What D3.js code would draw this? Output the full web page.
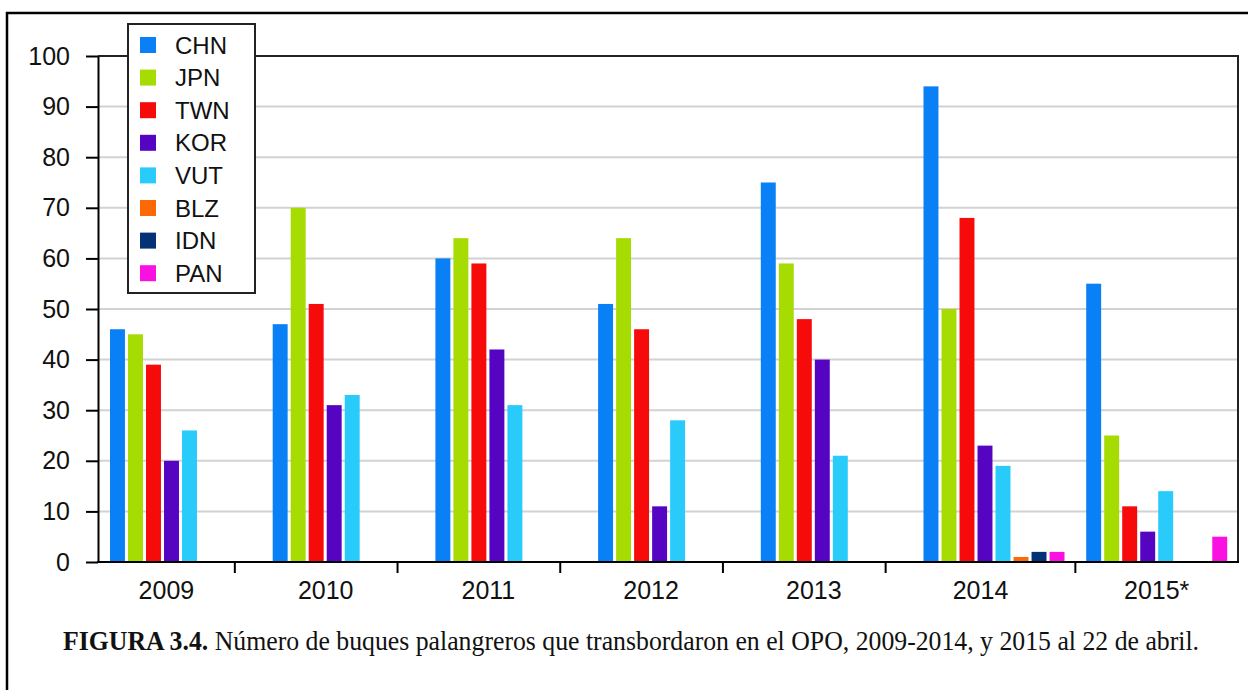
<!DOCTYPE html>
<html>
<head>
<meta charset="utf-8">
<script src="https://cdn.jsdelivr.net/npm/d3@7"></script>
<style>
  body { margin: 0; background: #fff; }
  svg { display: block; }
  text { font-family: "Liberation Sans", Arial, sans-serif; fill: #111; }
</style>
</head>
<body>
<svg id="chart" width="1248" height="690"></svg>
<script>
// data
var years = ["2009", "2010", "2011", "2012", "2013", "2014", "2015*"];
var fleets = ["CHN", "JPN", "TWN", "KOR", "VUT", "BLZ", "IDN", "PAN"];
var CHN = [46, 47, 60, 51, 75, 94, 55];
var JPN = [45, 70, 64, 64, 59, 50, 25];
var TWN = [39, 51, 59, 46, 48, 68, 11];
var KOR = [20, 31, 42, 11, 40, 23, 6];
var VUT = [26, 33, 31, 28, 21, 19, 14];
var BLZ = [0, 0, 0, 0, 0, 1, 0];
var IDN = [0, 0, 0, 0, 0, 2, 0];
var PAN = [0, 0, 0, 0, 0, 2, 5];
var yTicks = [0, 10, 20, 30, 40, 50, 60, 70, 80, 90, 100];
var colors = ["#0a80f6", "#a6dc02", "#f70a0a", "#5504c2", "#28cbf9", "#fd6a05", "#053276", "#fb10e2"];
var caption = "Número de buques palangreros que transbordaron en el OPO, 2009-2014, y 2015 al 22 de abril.";

var series = {CHN: CHN, JPN: JPN, TWN: TWN, KOR: KOR, VUT: VUT, BLZ: BLZ, IDN: IDN, PAN: PAN};

var svg = d3.select("#chart");
var pLeft = 98, pRight = 1238, pTop = 56, pBottom = 562;

var y = d3.scaleLinear().domain([0, 100]).range([pBottom, pTop]);
var x0 = d3.scaleBand().domain(years).range([110, 110 + 7 * 162.7]);
var x1 = d3.scaleBand().domain(fleets).range([0, 141]).paddingInner(0.17);
var color = d3.scaleOrdinal().domain(fleets).range(colors);

// outer figure frame
svg.append("path")
    .attr("d", "M7,690V13H1248")
    .attr("fill", "none").attr("stroke", "#000").attr("stroke-width", 2.5);

// gridlines
svg.append("g").selectAll("line")
    .data(yTicks.filter(function(d){ return d > 0 && d < 100; }))
  .enter().append("line")
    .attr("x1", pLeft).attr("x2", pRight)
    .attr("y1", function(d){ return y(d); }).attr("y2", function(d){ return y(d); })
    .attr("stroke", "#d2d2d2").attr("stroke-width", 2);

// top / right frame of plot
svg.append("path")
    .attr("d", "M" + pLeft + "," + y(100) + "H" + pRight + "V" + y(0))
    .attr("fill", "none").attr("stroke", "#222").attr("stroke-width", 2);

// bars
var groups = svg.append("g").selectAll("g")
    .data(years)
  .enter().append("g")
    .attr("transform", function(d){ return "translate(" + x0(d) + ",0)"; });

groups.selectAll("rect")
    .data(function(d, i){ return fleets.map(function(f){ return {key: f, value: series[f][i]}; }); })
  .enter().append("rect")
    .filter(function(d){ return d.value > 0; })
    .attr("x", function(d){ return x1(d.key); })
    .attr("width", x1.bandwidth())
    .attr("y", function(d){ return y(d.value); })
    .attr("height", function(d){ return y(0) - y(d.value); })
    .attr("fill", function(d){ return color(d.key); });

// y axis
var yAxis = svg.append("g")
    .attr("transform", "translate(" + pLeft + ",0)")
    .call(d3.axisLeft(y).tickValues(yTicks).tickSize(12).tickSizeOuter(0).tickPadding(16));
yAxis.select(".domain").attr("stroke", "#000").attr("stroke-width", 2);
yAxis.selectAll(".tick line").attr("stroke", "#000").attr("stroke-width", 2);
yAxis.selectAll(".tick text").attr("font-size", 25).attr("font-family", "Liberation Sans, Arial, sans-serif").attr("fill", "#111");

// x axis: ticks sit in the gap between the last drawn bar of a year and the next year
function lastEnd(i){
  var last = 0;
  fleets.forEach(function(f, k){ if (series[f][i] > 0) last = k; });
  return x0(years[i]) + x1(fleets[last]) + x1.bandwidth();
}
var tickX = years.slice(1).map(function(d, i){ return (lastEnd(i) + x0(d)) / 2; });
var bounds = [pLeft].concat(tickX, [pRight]);

svg.append("line")
    .attr("x1", pLeft - 1).attr("x2", pRight + 1)
    .attr("y1", y(0)).attr("y2", y(0))
    .attr("stroke", "#000").attr("stroke-width", 2);

svg.append("g").selectAll("line")
    .data(tickX)
  .enter().append("line")
    .attr("x1", function(d){ return d; }).attr("x2", function(d){ return d; })
    .attr("y1", y(0)).attr("y2", y(0) + 11)
    .attr("stroke", "#000").attr("stroke-width", 2);

svg.append("g").selectAll("text")
    .data(years)
  .enter().append("text")
    .attr("x", function(d, i){ return Math.max(x0(d) + 53, (bounds[i] + bounds[i + 1]) / 2); })
    .attr("y", 599)
    .attr("text-anchor", "middle")
    .attr("font-size", 25)
    .text(function(d){ return d; });

// legend
var legend = svg.append("g");
legend.append("rect")
    .attr("x", 128).attr("y", 24).attr("width", 127).attr("height", 269)
    .attr("fill", "#fff").attr("stroke", "#222").attr("stroke-width", 2);
var rows = legend.selectAll("g.row")
    .data(fleets)
  .enter().append("g").attr("class", "row")
    .attr("transform", function(d, i){ return "translate(140," + (37 + i * 32.6) + ")"; });
rows.append("rect")
    .attr("width", 16).attr("height", 16)
    .attr("fill", function(d){ return color(d); });
rows.append("text")
    .attr("x", 35).attr("y", 16.5)
    .attr("font-size", 24)
    .text(function(d){ return d; });

// caption
var cap = svg.append("text")
    .attr("y", 650)
    .attr("font-size", 27)
    .style("font-family", "'Liberation Serif', 'Times New Roman', serif");
cap.append("tspan").attr("font-weight", "bold").text("FIGURA 3.4.");
cap.append("tspan").text(" " + caption);
var w = cap.node().getComputedTextLength();
cap.attr("transform", "translate(63,0) scale(" + (1137 / w) + ",1)");
</script>
</body>
</html>
